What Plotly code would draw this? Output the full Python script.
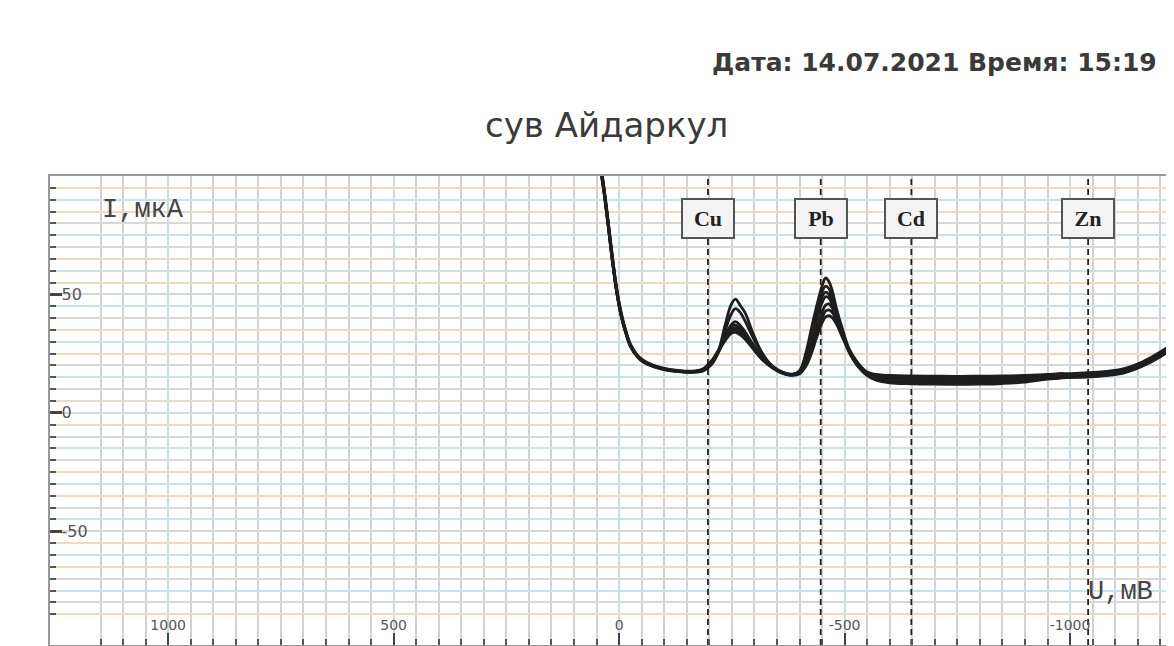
import plotly.graph_objects as go

# ---- data ----
U_mV = [60, 45, 35, 25, 15, 5, -5, -15, -25, -40, -55, -75, -100, -130, -160, -185,
        -205, -220, -235, -248, -258, -268, -280, -295, -315, -340, -365, -385,
        -400, -415, -428, -440, -450, -458, -465, -472, -482, -495, -510, -528, -548, -570,
        -600, -650, -700, -750, -800, -850, -900, -950, -975, -1000, -1040, -1080, -1120,
        -1160, -1200, -1240]

I_curve1 = [125, 108, 96, 81, 65, 51, 41, 34, 28.5, 24, 21.5, 19.8, 18.5, 17.6, 17.2, 17.6,
            20.5, 26, 37, 45.5, 48, 45.5, 42, 34.5, 26, 19.5, 16.8, 16.2,
            17.5, 26, 37, 46.5, 53.5, 57, 55.5, 52, 44, 35.5, 27, 21.5, 17.5, 16.2,
            15.8, 15.6, 15.5, 15.4, 15.5, 15.6, 15.8, 16.2, 16.6, 16.6, 17, 17.5, 18.7, 21.5, 25.7, 31.2]
I_curve2 = [126, 109, 97, 82, 66, 52, 41.5, 34.5, 28.8, 24.2, 21.8, 20, 18.7, 17.8, 17.4, 17.8,
            20.5, 25.5, 34.5, 41.5, 44, 42.5, 38.5, 32.5, 25.5, 19.8, 17, 16.4,
            17.6, 25, 35, 44.5, 51, 53.5, 52.5, 49, 42.5, 34.5, 26.5, 21, 17.2, 15.7,
            15.2, 15, 14.9, 14.8, 14.9, 15, 15.2, 15.6, 16, 16, 16.4, 17, 18.2, 21, 25.1, 30.6]
I_curve3 = [124, 107, 95, 80, 64, 50.5, 40.5, 33.5, 28.2, 23.8, 21.3, 19.6, 18.3, 17.4, 17.1, 17.9,
            21, 25.5, 32, 37, 38.5, 37, 34, 29.5, 24, 19.5, 16.8, 16.2,
            17.8, 24.5, 34, 43, 49, 51, 50, 46.5, 40.5, 33, 25.5, 20, 16.5, 15,
            14.4, 14.1, 13.9, 13.8, 13.9, 14.1, 14.4, 15, 15.5, 15.4, 15.9, 16.5, 17.7, 20.5, 24.6, 30]
I_curve4 = [125, 108, 96, 81, 65, 51, 41, 34, 28.5, 24, 21.5, 19.8, 18.5, 17.6, 17.3, 18.2,
            21.5, 26, 31.5, 35.5, 36, 34.8, 32.5, 28.5, 23.5, 19.2, 16.7, 16,
            17, 21.5, 29, 37, 42.5, 45.5, 46, 44.5, 40, 33.5, 26.5, 20.5, 16.5, 14.4,
            13.6, 13.3, 13.1, 13, 13.1, 13.3, 13.7, 14.6, 15.2, 15, 15.5, 16.1, 17.3, 20.1, 24.2, 29.6]
I_curve5 = [126, 109, 97, 82, 66, 52, 42, 34.5, 29, 24.5, 22, 20.2, 18.8, 17.9, 17.6, 18.5,
            22, 26, 30.5, 33.5, 34, 33, 31, 27.5, 23, 19, 16.6, 16,
            16.8, 20.5, 27, 34.5, 40, 43, 43.5, 42.5, 39, 33, 26.5, 20.5, 16.2, 14,
            13, 12.7, 12.5, 12.4, 12.5, 12.8, 13.4, 14.8, 16, 15.5, 15.3, 15.9, 17.1, 19.9, 23.9, 29.3]
I_curve6 = [124, 107, 95, 80, 64, 50.5, 40.5, 33.5, 28.2, 23.8, 21.3, 19.6, 18.3, 17.5, 17.3, 18.3,
            21.8, 26.5, 31.5, 34.5, 35, 34, 31.8, 28, 23.2, 19, 16.5, 15.8,
            16.5, 20, 26, 33, 38, 40.5, 41, 40.3, 37.5, 32, 26, 20.2, 16, 13.8,
            12.7, 12.3, 12.1, 12, 12.1, 12.4, 13, 14.2, 14.6, 15, 15.1, 15.7, 16.9, 19.7, 23.7, 29.1]
I_curve7 = [125, 108, 96, 81, 65, 51, 41, 34, 28.5, 24, 21.5, 19.8, 18.5, 17.7, 17.4, 18,
            21, 26, 32.5, 36.5, 37, 35.5, 33, 29, 23.8, 19.4, 16.8, 16.1,
            17.3, 23, 31.5, 40.5, 46.5, 49, 48.5, 46, 40.5, 33.5, 26, 20.3, 16.6, 14.7,
            13.9, 13.6, 13.4, 13.3, 13.4, 13.6, 14, 15, 15.5, 15.5, 15.9, 16.5, 17.7, 20.5, 24.6, 30.1]

curves = [I_curve1, I_curve2, I_curve3, I_curve4, I_curve5, I_curve6, I_curve7]

elements = ["Cu", "Pb", "Cd", "Zn"]
element_U = [-197, -447, -648, -1040]
label_I = 82

x_tickvals = [1000, 500, 0, -500, -1000]
x_ticktext = ["1000", "500", "0", "-500", "-1000"]
y_tickvals = [50, 0, -50]
y_ticktext = ["50", "0", "-50"]

X_RANGE = [1262, -1226]
Y_RANGE = [-98, 100]

fig = go.Figure()

# helper traces to activate overlay grid axes
fig.add_trace(go.Scatter(x=[None], y=[None], yaxis="y2", showlegend=False, hoverinfo="skip"))
fig.add_trace(go.Scatter(x=[None], y=[None], yaxis="y3", showlegend=False, hoverinfo="skip"))

# dashed element lines
for u in element_U:
    fig.add_trace(go.Scatter(x=[u, u], y=[Y_RANGE[0], Y_RANGE[1]], mode="lines",
                             line=dict(color="#222222", width=1.8, dash="6px,4px"),
                             showlegend=False, hoverinfo="skip"))

for c in curves:
    fig.add_trace(go.Scatter(x=U_mV, y=c, mode="lines", line_shape="spline",
                             line=dict(color="#1e1e1e", width=2.8),
                             showlegend=False, cliponaxis=True))

for name, u in zip(elements, element_U):
    fig.add_annotation(x=u, y=label_I, xref="x", yref="y", text="<b>" + name + "</b>",
                       showarrow=False, font=dict(family="Liberation Serif", size=22, color="#222"),
                       bgcolor="#f3f3f3", bordercolor="#555555", borderwidth=2, borderpad=2,
                       width=46, height=33)

# page body has an 8px margin: window coords -> paper coords
PAPER_H = 469.0


def py(p):
    return (645 - p) / PAPER_H


def px(p):
    return (p - 50) / 1124.0


fig.add_annotation(x=px(1161), y=py(62), xref="paper", yref="paper", xanchor="right",
                   yanchor="middle", text="<b>Дата: 14.07.2021 Время: 15:19</b>", showarrow=False,
                   font=dict(family="DejaVu Sans", size=25, color="#3a3a3a"))
fig.add_annotation(x=px(607), y=py(125), xref="paper", yref="paper", xanchor="center",
                   yanchor="middle", text="сув Айдаркул", showarrow=False,
                   font=dict(family="DejaVu Sans", size=34, color="#3a3a3a"))
fig.add_annotation(x=px(100), y=py(210), xref="paper", yref="paper", xanchor="left",
                   yanchor="middle", text="I,мкА", showarrow=False,
                   font=dict(family="Liberation Mono", size=27, color="#444"))
fig.add_annotation(x=px(1088), y=py(592), xref="paper", yref="paper", xanchor="left",
                   yanchor="middle", text="U,мВ", showarrow=False,
                   font=dict(family="Liberation Mono", size=27, color="#444"))

fig.update_layout(
    width=1166, height=638,
    margin=dict(l=42, r=0, t=168, b=1),
    paper_bgcolor="white", plot_bgcolor="white",
    showlegend=False,
    xaxis=dict(range=X_RANGE, tickvals=x_tickvals, ticktext=x_ticktext,
               ticks="inside", ticklen=12, tickwidth=2, tickcolor="#444",
               ticklabelposition="inside", ticklabelstandoff=0,
               tickfont=dict(family="DejaVu Sans", size=14, color="#555"),
               showgrid=True, gridcolor="#c9dde5", gridwidth=2,
               minor=dict(dtick=50, tick0=0, ticks="inside", ticklen=6, tickwidth=1.5,
                          tickcolor="#555", showgrid=True, gridcolor="#d2d2d2", gridwidth=1.5),
               showline=True, linecolor="#999", linewidth=1.5, mirror=True, zeroline=False),
    yaxis=dict(range=Y_RANGE, tickvals=y_tickvals, ticktext=y_ticktext,
               ticks="inside", ticklen=12, tickwidth=2.5, tickcolor="#444",
               ticklabelposition="inside",
               tickfont=dict(family="DejaVu Sans", size=16, color="#555"),
               showgrid=True, gridcolor="#d3d9d3", gridwidth=2,
               minor=dict(dtick=5, tick0=0, ticks="inside", ticklen=6, tickwidth=2,
                          tickcolor="#555", showgrid=True, gridcolor="#d8d8d8", gridwidth=1.5),
               showline=True, linecolor="#999", linewidth=1.5, mirror=True, zeroline=False),
    yaxis2=dict(range=Y_RANGE, overlaying="y", anchor="x", tick0=5, dtick=10,
                showticklabels=False, ticks="", showline=False, zeroline=False,
                showgrid=True, gridcolor="#f3d8c0", gridwidth=2),
    yaxis3=dict(range=Y_RANGE, overlaying="y", anchor="x", tick0=0, dtick=15,
                showticklabels=False, ticks="", showline=False, zeroline=False,
                showgrid=True, gridcolor="#c6e2ec", gridwidth=2),
)

fig.write_html("out.html")
